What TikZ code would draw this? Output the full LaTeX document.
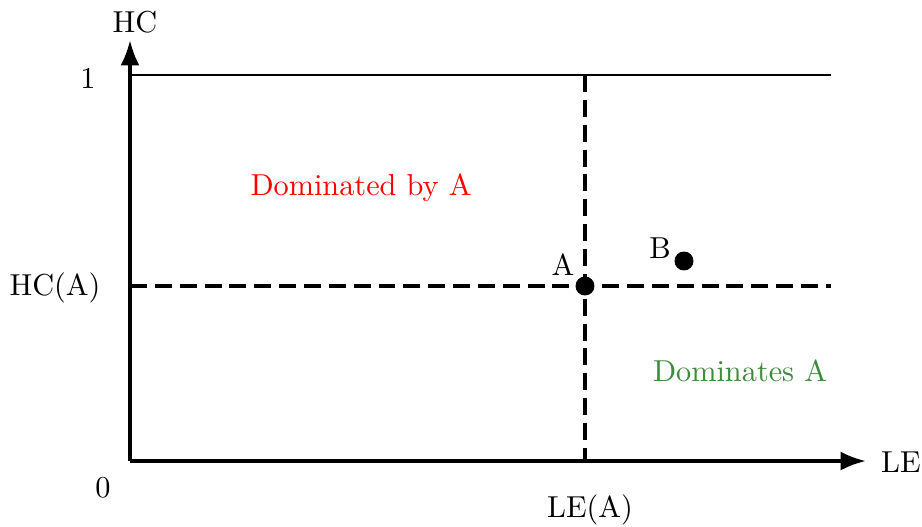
\documentclass[tikz,border=0pt]{standalone}
\usepackage{tikz}
\usetikzlibrary{arrows.meta}
\definecolor{domgreen}{RGB}{61,139,61}

\begin{document}
\begin{tikzpicture}[
    font=\fontsize{10}{12}\selectfont,
      >=Latex,
      x=0.0116cm, y=-0.0116cm,
      axis/.style={->, very thick, draw=black},
      cut/.style={very thick, dash pattern=on 5.6pt off 2.6pt},
      point/.style={circle, fill=black, inner sep=0pt, minimum size=0.22cm},
      region/.style={align=center}
    ]
      \useasboundingbox (0,0) rectangle (922,526);
      \coordinate (origin) at (130,461);
      \coordinate (ytip) at (130,40);
      \coordinate (xtip) at (866,461);
      \coordinate (top left) at (130,75);
      \coordinate (top right) at (831,75);
      \coordinate (cut top) at (585,75);
      \coordinate (cut bottom) at (585,461);
      \coordinate (cut left) at (130,286);
      \coordinate (cut right) at (831,286);

      \draw[axis] (origin) -- (ytip);
      \draw[axis] (origin) -- (xtip);
      \draw[thin] (top left) -- (top right);
      \draw[cut] (cut top) -- (cut bottom);
      \draw[cut] (cut left) -- (cut right);

      \node (hc) at (135,22) {HC};
      \node (le) at (901,462) {LE};
      \node (one) at (88,78) {1};
      \node (zero) at (103,488) {0};
      \node (hca) at (55,288) {HC(A)};
      \node (lea) at (590,510) {LE(A)};

      \node[point] (a) at (585,286) {};
      \node[point] (b) at (684,261) {};
      \node (alabel) at (563,265) {A};
      \node (blabel) at (660,248) {B};

      \node[region, text=red] (dominated) at (361,188) {Dominated by A};
      \node[region, text=domgreen] (dominates) at (740,371) {Dominates A};
    \end{tikzpicture}
\end{document}
